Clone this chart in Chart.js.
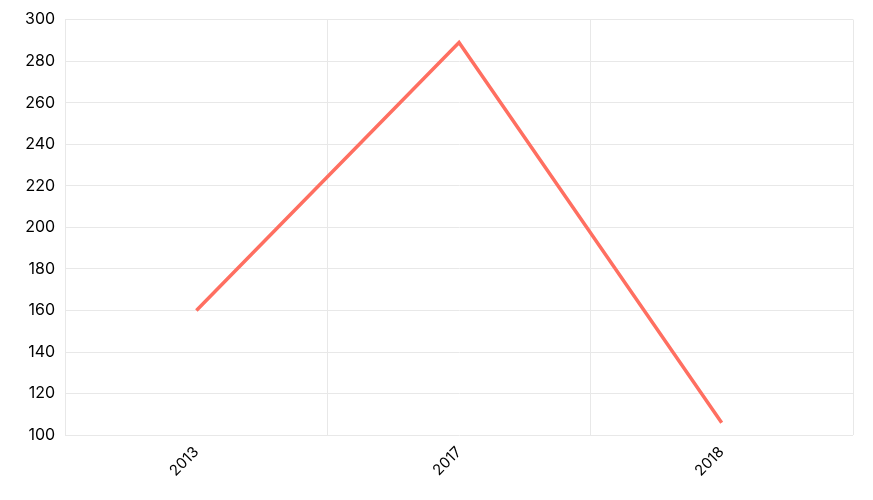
<!DOCTYPE html>
<html>
<head>
<meta charset="utf-8">
<script src="https://cdn.jsdelivr.net/npm/chart.js@4"></script>
<style>
    html, body { margin: 0; padding: 0; background: #fff; }
    #wrap { width: 873px; height: 500px; }
</style>
</head>
<body>
<div id="wrap"><canvas id="lineChart"></canvas></div>
<script>
// Chart data
const years = ['2013', '2017', '2018'];
const values = [160, 289, 106];
const yTicks = [100, 120, 140, 160, 180, 200, 220, 240, 260, 280, 300];

const ctx = document.getElementById('lineChart');

new Chart(ctx, {
    type: 'line',
    data: {
        labels: years,
        datasets: [{
            data: values,
            borderColor: '#FF6F61',
            borderWidth: 3.5,
            pointRadius: 0,
            tension: 0,
            fill: false
        }]
    },
    options: {
        responsive: true,
        maintainAspectRatio: false,
        animation: false,
        layout: { padding: { top: 10, right: 20, left: 15, bottom: 12 } },
        plugins: {
            legend: { display: false },
            tooltip: { enabled: false }
        },
        scales: {
            x: {
                offset: true,
                grid: { offset: true, color: '#e8e8e8', drawTicks: false },
                border: { display: false },
                ticks: {
                    color: '#000',
                    font: { family: 'Inter', size: 15 },
                    maxRotation: 45,
                    minRotation: 45,
                    padding: 8
                }
            },
            y: {
                min: 100,
                max: 300,
                afterBuildTicks: axis => { axis.ticks = yTicks.map(v => ({ value: v })); },
                grid: { color: '#e8e8e8', drawTicks: false },
                border: { color: '#e8e8e8' },
                ticks: {
                    color: '#000',
                    font: { family: 'Inter', size: 16 },
                    padding: 10
                }
            }
        }
    }
});
</script>
</body>
</html>
